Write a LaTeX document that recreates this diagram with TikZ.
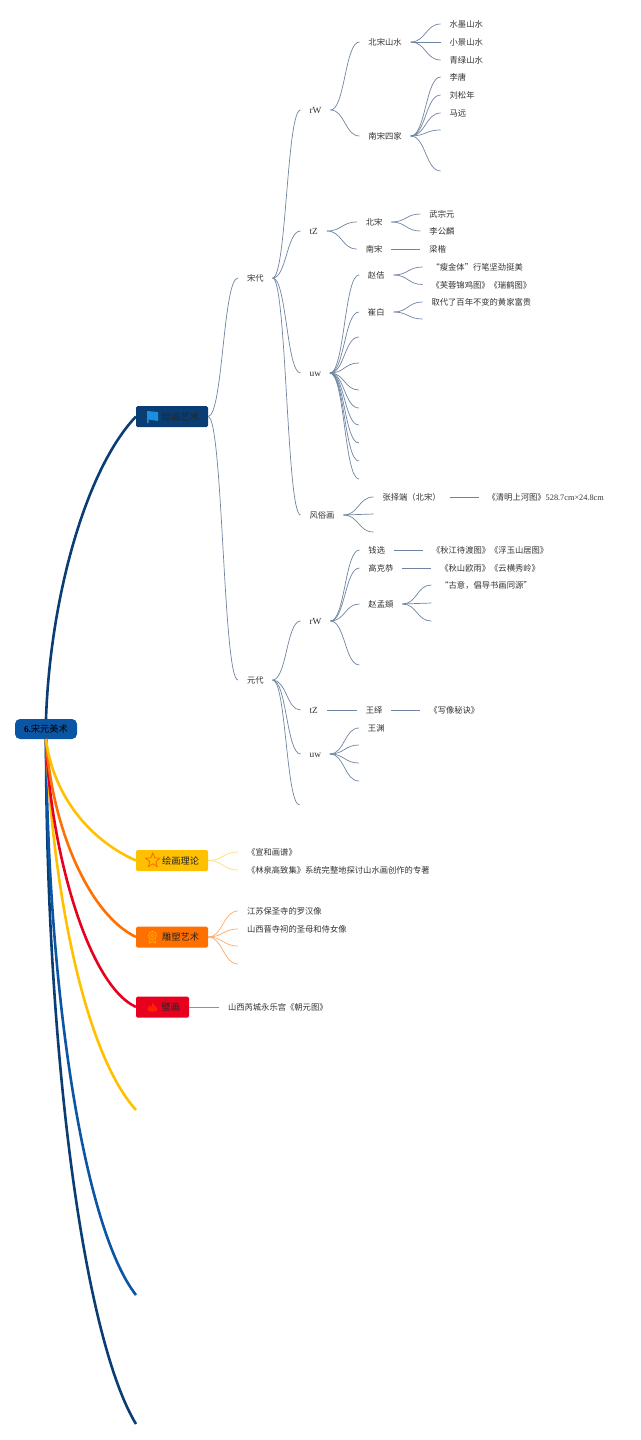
\documentclass[tikz,border=0pt]{standalone}
\usepackage{fontspec}
\setmainfont{Liberation Serif}
\newfontfamily\cjk{Noto Sans CJK SC}
\usetikzlibrary{shapes.geometric, positioning, calc}
\definecolor{rootblue}{RGB}{11, 85, 165}
\definecolor{mainnavy}{RGB}{10, 61, 115}
\definecolor{flagblue}{RGB}{26, 143, 224}
\definecolor{warmyellow}{RGB}{255, 192, 0}
\definecolor{warmorange}{RGB}{255, 112, 0}
\definecolor{crimsonred}{RGB}{232, 0, 31}
\definecolor{twiggray}{RGB}{110, 132, 160}
\definecolor{leafgray}{RGB}{50, 50, 50}
\tikzset{
  leaf/.style={font=\cjk\fontsize{8.3}{10}\selectfont, text=leafgray, inner xsep=9pt, inner ysep=0pt, outer sep=0pt, text height=8.5pt, text depth=1pt},
  tag/.style={leaf, font=\fontsize{9.3}{10}\selectfont},
  mainbox/.style={rounded corners=1.5pt, anchor=west, font=\cjk\fontsize{9.25}{11}\selectfont, text=black!85, align=right, minimum height=21pt, inner xsep=9pt, inner ysep=0pt, outer sep=0pt, text height=8.5pt, text depth=1pt},
  twig/.style={line width=0.7pt, twiggray, to path={.. controls ($(\tikztostart)!0.5!(\tikztotarget|-\tikztostart)$) and ($(\tikztotarget)!0.5!(\tikztostart|-\tikztotarget)$) .. (\tikztotarget)}},
  twig_yellow/.style={twig, color=warmyellow!55},
  twig_orange/.style={twig, color=warmorange!60},
  stem/.style={line width=0.7pt, twiggray},
  stem_red/.style={line width=0.7pt, crimsonred!60},
  limb/.style={line width=2.6pt}
}
\begin{document}
\begin{tikzpicture}[x=1pt, y=-1pt]
    \useasboundingbox (0,0) rectangle (640,1440);

    \node (root) [fill=rootblue, rounded corners=5pt, minimum width=62pt, minimum height=20pt, inner sep=0pt, outer sep=0pt, font=\cjk\fontsize{9.25}{11}\selectfont, text=black] at (46,729) {{\normalfont\bfseries 6.}宋元美术};

    \node (huihua) [mainbox, fill=mainnavy, text width=54pt] at (136,416.5) {绘画艺术};
    \node (lilun) [mainbox, fill=warmyellow, text width=54pt] at (136,860.5) {绘画理论};
    \node (diaosu) [mainbox, fill=warmorange, text width=54pt] at (136,937) {雕塑艺术};
    \node (bihua) [mainbox, fill=crimsonred, text width=35pt] at (136,1007) {壁画};

    \fill[flagblue] (147,411) -- (158,412) -- (158,421) -- (148.7,419.5) -- (148.7,423) -- (147,423) -- cycle;
    \node (staricon) [star, star points=5, star point ratio=2.3, draw=orange!80!red, line width=0.8pt, minimum size=15pt, inner sep=0pt] at (152.8,860.5) {};
    \draw[orange!70!yellow, line width=0.8pt] (152.5,935.5) circle (4) (152.5,935.5) circle (1.6) (150,939.5) -- (149.5,943) -- (152.5,941.5) -- (155.5,943) -- (155,939.5);
    \fill[red!75!orange] (152.5,1002.5) .. controls (153,1005.5) and (158,1006.5) .. (157.5,1009.5) .. controls (157,1012.5) and (148,1012.5) .. (147.5,1009.5) .. controls (147.5,1007.5) and (149,1006.5) .. (150,1005.5) .. controls (150.5,1006.5) and (151,1007) .. (151.5,1007) .. controls (152.5,1005.5) and (152.5,1004) .. (152.5,1002.5) -- cycle;

    % song
    \node (song) [leaf, right=30pt of huihua, yshift=138.5pt] {宋代};
    \node (songrw) [tag, right=28pt of song, yshift=168pt] {rW};
    \node (songtz) [tag, right=28pt of song, yshift=47pt] {tZ};
    \node (songuw) [tag, right=28pt of song, yshift=-95pt] {uw};
    \node (fengsu) [leaf, right=28pt of song, yshift=-237pt] {风俗画};

    \node (beishan) [leaf, right=29pt of songrw, yshift=68pt] {北宋山水};
    \node (nansi) [leaf, right=29pt of songrw, yshift=-26pt] {南宋四家};
    \node (shuimo) [leaf, right=30pt of beishan, yshift=18pt] {水墨山水};
    \node (xiaojing) [leaf, right=30pt of beishan] {小景山水};
    \node (qinglv) [leaf, right=30pt of beishan, yshift=-18pt] {青绿山水};
    \node (litang) [leaf, right=30pt of nansi, yshift=59pt] {李唐};
    \node (liusong) [leaf, right=30pt of nansi, yshift=41pt] {刘松年};
    \node (mayuan) [leaf, right=30pt of nansi, yshift=23pt] {马远};
    \coordinate [right=30pt of nansi, yshift=6pt] (nansi4);
    \coordinate [right=30pt of nansi, yshift=-35pt] (nansi5);

    \node (beisong) [leaf, right=30pt of songtz, yshift=9pt] {北宋};
    \node (nansong) [leaf, right=30pt of songtz, yshift=-18pt] {南宋};
    \node (wuzong) [leaf, right=29pt of beisong, yshift=8pt] {武宗元};
    \node (ligong) [leaf, right=29pt of beisong, yshift=-9pt] {李公麟};
    \node (liangkai) [leaf, right=29pt of nansong] {梁楷};

    \node (zhaoji) [leaf, right=29pt of songuw, yshift=98pt] {赵佶};
    \node (cuibai) [leaf, right=29pt of songuw, yshift=61pt] {崔白};
    \coordinate [right=29pt of songuw, yshift=36pt] (uw3);
    \coordinate [right=29pt of songuw, yshift=10pt] (uw4);
    \coordinate [right=29pt of songuw, yshift=-17pt] (uw5);
    \coordinate [right=29pt of songuw, yshift=-35pt] (uw6);
    \coordinate [right=29pt of songuw, yshift=-52pt] (uw7);
    \coordinate [right=29pt of songuw, yshift=-70pt] (uw8);
    \coordinate [right=29pt of songuw, yshift=-88pt] (uw9);
    \coordinate [right=29pt of songuw, yshift=-106pt] (uw10);
    \node (shoujin) [leaf, right=29pt of zhaoji, yshift=8pt] {“瘦金体”行笔坚劲挺美};
    \node (furong) [leaf, right=29pt of zhaoji, yshift=-9.5pt] {《芙蓉锦鸡图》《瑞鹤图》};
    \node (qudai) [leaf, right=29pt of cuibai, yshift=10pt] {取代了百年不变的黄家富贵};
    \coordinate [right=29pt of cuibai, yshift=-7pt] (cuibai2);

    \node (zhang) [leaf, right=30pt of fengsu, yshift=18pt] {张择端（北宋）};
    \coordinate [right=30pt of fengsu, yshift=1pt] (fengsu2);
    \coordinate [right=30pt of fengsu, yshift=-17pt] (fengsu3);
    \node (qingming) [leaf, right=29pt of zhang] {《清明上河图》{\normalfont 528.7cm×24.8cm}};

    % yuan
    \node (yuan) [leaf, right=30pt of huihua, yshift=-263.5pt] {元代};
    \node (yuanrw) [tag, right=28pt of yuan, yshift=59pt] {rW};
    \node (yuantz) [tag, right=28pt of yuan, yshift=-30pt] {tZ};
    \node (yuanuw) [tag, right=28pt of yuan, yshift=-74pt] {uw};
    \coordinate [right=27pt of yuan, yshift=-125pt] (yuan4);

    \node (qianxuan) [leaf, right=29pt of yuanrw, yshift=71pt] {钱选};
    \node (gaoke) [leaf, right=29pt of yuanrw, yshift=53pt] {高克恭};
    \node (zhaomeng) [leaf, right=29pt of yuanrw, yshift=17pt] {赵孟頫};
    \coordinate [right=29pt of yuanrw, yshift=-44pt] (yuanrw4);
    \node (qiujiang) [leaf, right=29pt of qianxuan] {《秋江待渡图》《浮玉山居图》};
    \node (qiushan) [leaf, right=29pt of gaoke] {《秋山欧雨》《云横秀岭》};
    \node (guyi) [leaf, right=29pt of zhaomeng, yshift=19pt] {“古意，倡导书画同源”};
    \coordinate [right=29pt of zhaomeng, yshift=1pt] (zhaomeng2);
    \coordinate [right=29pt of zhaomeng, yshift=-17pt] (zhaomeng3);

    \node (wangyi) [leaf, right=30pt of yuantz] {王绎};
    \node (xiexiang) [leaf, right=29pt of wangyi] {《写像秘诀》};

    \node (wangyuan) [leaf, right=29pt of yuanuw, yshift=26pt] {王渊};
    \coordinate [right=29pt of yuanuw, yshift=9pt] (yuanuw2);
    \coordinate [right=29pt of yuanuw, yshift=-9pt] (yuanuw3);
    \coordinate [right=29pt of yuanuw, yshift=-27pt] (yuanuw4);

    % other branches
    \node (xuanhe) [leaf, right=30pt of lilun, yshift=8.5pt] {《宣和画谱》};
    \node (linquan) [leaf, right=30pt of lilun, yshift=-9.5pt] {《林泉高致集》系统完整地探讨山水画创作的专著};
    \node (baosheng) [leaf, right=30pt of diaosu, yshift=26pt] {江苏保圣寺的罗汉像};
    \node (jinci) [leaf, right=30pt of diaosu, yshift=8pt] {山西晋寺祠的圣母和侍女像};
    \coordinate [right=30pt of diaosu, yshift=-9pt] (diaosu3);
    \coordinate [right=30pt of diaosu, yshift=-27pt] (diaosu4);
    \node (yongle) [leaf, right=30pt of bihua] {山西芮城永乐宫《朝元图》};

    \coordinate (limb5) at (136,1110);
    \coordinate (limb6) at (136,1295);
    \coordinate (limb7) at (136,1424);

    \draw[limb, mainnavy] (root.north) .. controls (50,600) and (85,470) .. (huihua.west);
    \draw[limb, mainnavy] (root.south) .. controls (46,1060) and (85,1340) .. (limb7);
    \draw[limb, rootblue] (root.south) .. controls (48,1000) and (85,1230) .. (limb6);
    \draw[limb, warmyellow] (root.south) .. controls (52,880) and (82,1050) .. (limb5);
    \draw[limb, crimsonred] (root.south) .. controls (50,850) and (88,985) .. (bihua.west);
    \draw[limb, warmorange] (root.south) .. controls (52,830) and (90,915) .. (diaosu.west);
    \draw[limb, warmyellow] (root.south) .. controls (52,790) and (85,838) .. (lilun.west);

    \draw[twig] (huihua.east) to (song.west);
    \draw[twig] (huihua.east) to (yuan.west);
    \draw[twig] (song.east) to (songrw.west);
    \draw[twig] (song.east) to (songtz.west);
    \draw[twig] (song.east) to (songuw.west);
    \draw[twig] (song.east) to (fengsu.west);

    \draw[twig] (songrw.east) to (beishan.west);
    \draw[twig] (songrw.east) to (nansi.west);
    \draw[twig] (beishan.east) to (shuimo.west);
    \draw[stem] (beishan.east) -- (xiaojing.west);
    \draw[twig] (beishan.east) to (qinglv.west);
    \draw[twig] (nansi.east) to (litang.west);
    \draw[twig] (nansi.east) to (liusong.west);
    \draw[twig] (nansi.east) to (mayuan.west);
    \draw[twig] (nansi.east) to (nansi4);
    \draw[twig] (nansi.east) to (nansi5);

    \draw[twig] (songtz.east) to (beisong.west);
    \draw[twig] (songtz.east) to (nansong.west);
    \draw[twig] (beisong.east) to (wuzong.west);
    \draw[twig] (beisong.east) to (ligong.west);
    \draw[stem] (nansong.east) -- (liangkai.west);

    \draw[twig] (songuw.east) to (zhaoji.west);
    \draw[twig] (songuw.east) to (cuibai.west);
    \draw[twig] (songuw.east) to (uw3);
    \draw[twig] (songuw.east) to (uw4);
    \draw[twig] (songuw.east) to (uw5);
    \draw[twig] (songuw.east) to (uw6);
    \draw[twig] (songuw.east) to (uw7);
    \draw[twig] (songuw.east) to (uw8);
    \draw[twig] (songuw.east) to (uw9);
    \draw[twig] (songuw.east) to (uw10);
    \draw[twig] (zhaoji.east) to (shoujin.west);
    \draw[twig] (zhaoji.east) to (furong.west);
    \draw[twig] (cuibai.east) to (qudai.west);
    \draw[twig] (cuibai.east) to (cuibai2);

    \draw[twig] (fengsu.east) to (zhang.west);
    \draw[stem] (fengsu.east) -- (fengsu2);
    \draw[twig] (fengsu.east) to (fengsu3);
    \draw[stem] (zhang.east) -- (qingming.west);

    \draw[twig] (yuan.east) to (yuanrw.west);
    \draw[twig] (yuan.east) to (yuantz.west);
    \draw[twig] (yuan.east) to (yuanuw.west);
    \draw[twig] (yuan.east) to (yuan4);

    \draw[twig] (yuanrw.east) to (qianxuan.west);
    \draw[twig] (yuanrw.east) to (gaoke.west);
    \draw[twig] (yuanrw.east) to (zhaomeng.west);
    \draw[twig] (yuanrw.east) to (yuanrw4);
    \draw[stem] (qianxuan.east) -- (qiujiang.west);
    \draw[stem] (gaoke.east) -- (qiushan.west);
    \draw[twig] (zhaomeng.east) to (guyi.west);
    \draw[stem] (zhaomeng.east) -- (zhaomeng2);
    \draw[twig] (zhaomeng.east) to (zhaomeng3);

    \draw[stem] (yuantz.east) -- (wangyi.west);
    \draw[stem] (wangyi.east) -- (xiexiang.west);
    \draw[twig] (yuanuw.east) to (wangyuan.west);
    \draw[twig] (yuanuw.east) to (yuanuw2);
    \draw[twig] (yuanuw.east) to (yuanuw3);
    \draw[twig] (yuanuw.east) to (yuanuw4);

    \draw[twig_yellow] (lilun.east) to (xuanhe.west);
    \draw[twig_yellow] (lilun.east) to (linquan.west);
    \draw[twig_orange] (diaosu.east) to (baosheng.west);
    \draw[twig_orange] (diaosu.east) to (jinci.west);
    \draw[twig_orange] (diaosu.east) to (diaosu3);
    \draw[twig_orange] (diaosu.east) to (diaosu4);
    \draw[stem_red] (bihua.east) -- (yongle.west);
\end{tikzpicture}
\end{document}
